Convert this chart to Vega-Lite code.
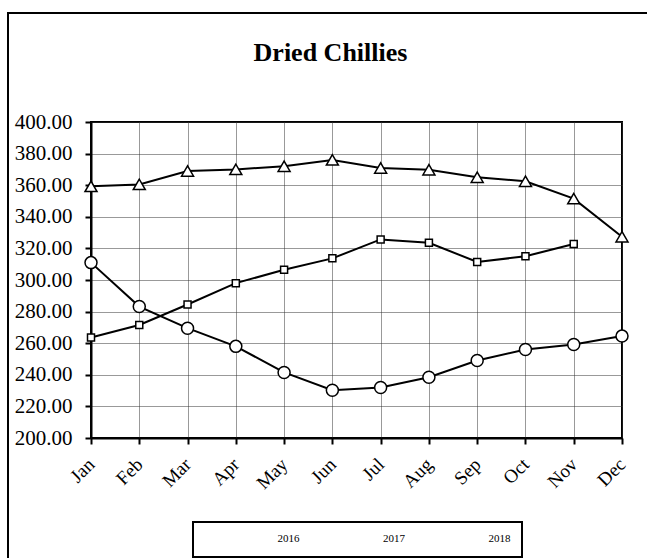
{
  "$schema": "https://vega.github.io/schema/vega-lite/v6.json",
  "width": 531,
  "height": 316,
  "autosize": {"type": "none"},
  "padding": {"left": 91, "top": 122, "right": 25, "bottom": 120},
  "background": "white",
  "title": {
    "text": "Dried Chillies",
    "font": "Liberation Serif",
    "fontSize": 26,
    "fontWeight": "bold",
    "color": "black",
    "anchor": "middle",
    "frame": "group",
    "baseline": "alphabetic",
    "offset": -75,
    "dx": -26
  },
  "data": {
    "values": [
      {"month": "Jan", "year": "2016", "price": 359.3},
      {"month": "Feb", "year": "2016", "price": 360.5},
      {"month": "Mar", "year": "2016", "price": 369.0},
      {"month": "Apr", "year": "2016", "price": 370.0},
      {"month": "May", "year": "2016", "price": 372.0},
      {"month": "Jun", "year": "2016", "price": 376.0},
      {"month": "Jul", "year": "2016", "price": 370.9},
      {"month": "Aug", "year": "2016", "price": 369.8},
      {"month": "Sep", "year": "2016", "price": 365.0},
      {"month": "Oct", "year": "2016", "price": 362.5},
      {"month": "Nov", "year": "2016", "price": 351.5},
      {"month": "Dec", "year": "2016", "price": 327.4},
      {"month": "Jan", "year": "2017", "price": 311.0},
      {"month": "Feb", "year": "2017", "price": 283.2},
      {"month": "Mar", "year": "2017", "price": 269.5},
      {"month": "Apr", "year": "2017", "price": 258.0},
      {"month": "May", "year": "2017", "price": 241.5},
      {"month": "Jun", "year": "2017", "price": 230.2},
      {"month": "Jul", "year": "2017", "price": 232.0},
      {"month": "Aug", "year": "2017", "price": 238.5},
      {"month": "Sep", "year": "2017", "price": 249.0},
      {"month": "Oct", "year": "2017", "price": 256.0},
      {"month": "Nov", "year": "2017", "price": 259.2},
      {"month": "Dec", "year": "2017", "price": 264.5},
      {"month": "Jan", "year": "2018", "price": 263.6},
      {"month": "Feb", "year": "2018", "price": 271.5},
      {"month": "Mar", "year": "2018", "price": 284.5},
      {"month": "Apr", "year": "2018", "price": 298.0},
      {"month": "May", "year": "2018", "price": 306.5},
      {"month": "Jun", "year": "2018", "price": 313.7},
      {"month": "Jul", "year": "2018", "price": 325.7},
      {"month": "Aug", "year": "2018", "price": 323.6},
      {"month": "Sep", "year": "2018", "price": 311.4},
      {"month": "Oct", "year": "2018", "price": 315.0},
      {"month": "Nov", "year": "2018", "price": 322.8}
    ]
  },
  "encoding": {
    "x": {
      "field": "month",
      "type": "ordinal",
      "sort": ["Jan", "Feb", "Mar", "Apr", "May", "Jun", "Jul", "Aug", "Sep", "Oct", "Nov", "Dec"],
      "scale": {"type": "point", "padding": 0},
      "axis": {
        "title": null,
        "labelAngle": -45,
        "labelAlign": "right",
        "labelBaseline": "middle",
        "labelFont": "Liberation Serif",
        "labelFontSize": 19,
        "labelColor": "black",
        "labelPadding": 17,
        "tickSize": 6,
        "grid": true
      }
    },
    "y": {
      "field": "price",
      "type": "quantitative",
      "scale": {"domain": [200, 400], "nice": false, "zero": false},
      "axis": {
        "title": null,
        "values": [200, 220, 240, 260, 280, 300, 320, 340, 360, 380, 400],
        "format": ".2f",
        "labelFont": "Liberation Serif",
        "labelFontSize": 21,
        "labelColor": "black",
        "labelPadding": 13,
        "tickSize": 6,
        "grid": true
      }
    }
  },
  "layer": [
    {
      "mark": {"type": "line", "color": "black", "strokeWidth": 2},
      "encoding": {"detail": {"field": "year", "type": "nominal"}}
    },
    {
      "transform": [{"filter": "datum.year !== '2018'"}],
      "mark": {"type": "point", "filled": false, "fill": "white", "stroke": "black", "color": "black", "strokeWidth": 1.5, "opacity": 1, "fillOpacity": 1, "size": 144},
      "encoding": {
        "shape": {
          "field": "year",
          "type": "nominal",
          "scale": {"domain": ["2016", "2017", "2018"], "range": ["triangle-up", "circle", "square"]},
          "legend": {
            "title": null,
            "orient": "none",
            "direction": "horizontal",
            "legendX": 102,
            "legendY": 400,
            "padding": 11,
            "strokeColor": "black",
            "fillColor": "white",
            "symbolSize": 50,
            "symbolStrokeWidth": 1.5,
            "symbolStrokeColor": "black",
            "symbolFillColor": "white",
            "symbolOpacity": 1,
            "symbolOffset": 42.5,
            "labelOffset": 20,
            "columnPadding": 9.5,
            "labelFont": "Liberation Serif",
            "labelFontSize": 11,
            "labelColor": "black"
          }
        }
      }
    },
    {
      "transform": [{"filter": "datum.year === '2018'"}],
      "mark": {"type": "point", "filled": false, "fill": "white", "stroke": "black", "color": "black", "strokeWidth": 1.5, "opacity": 1, "fillOpacity": 1},
      "encoding": {
        "shape": {"field": "year", "type": "nominal"},
        "size": {
          "field": "price",
          "type": "quantitative",
          "scale": {"range": [49, 49]},
          "legend": {
            "title": null,
            "orient": "none",
            "legendX": -83,
            "legendY": -109,
            "values": [300],
            "labelExpr": "''",
            "labelFontSize": 1,
            "labelOffset": 0,
            "symbolOpacity": 0,
            "symbolStrokeWidth": 0,
            "direction": "horizontal",
            "padding": 326,
            "strokeColor": "black",
            "encode": {"symbols": {"opacity": {"value": 0}}}
          }
        }
      }
    }
  ],
  "config": {
    "view": {"stroke": "black", "strokeWidth": 2},
    "legend": {"strokeWidth": 2},
    "axis": {
      "domainColor": "black",
      "domainWidth": 2,
      "tickColor": "black",
      "tickWidth": 2,
      "gridColor": "#333333",
      "gridDash": [1, 1],
      "gridWidth": 1
    }
  }
}
